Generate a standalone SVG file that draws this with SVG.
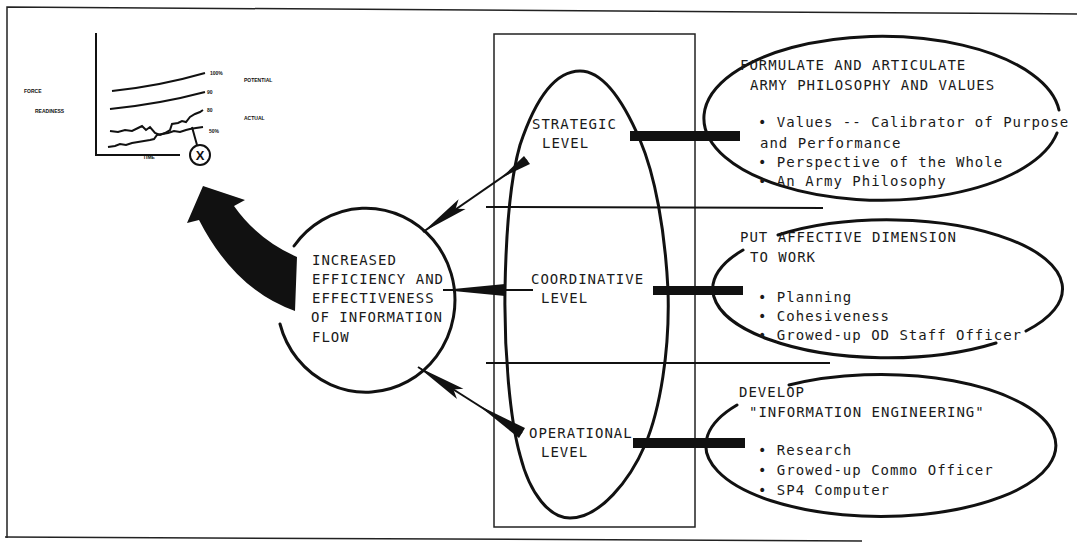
<svg xmlns="http://www.w3.org/2000/svg" width="1077" height="548" viewBox="0 0 1077 548">
<style>
.t{font-family:"DejaVu Sans Mono","Liberation Mono",monospace;font-size:14px;letter-spacing:1px;fill:#1a1a1a}
.s{font-family:"Liberation Sans",Arial,sans-serif;font-size:5px;font-weight:bold;fill:#111}
.k{fill:none;stroke:#111;stroke-width:3;stroke-linecap:round}
.thin{fill:none;stroke:#222;stroke-width:1.5}
.hl{fill:none;stroke:#111;stroke-width:2}
.blk{fill:#111}
</style>
<rect width="1077" height="548" fill="#fff"/>
<g id="frame">
<path class="thin" d="M7 538 L7 7 L1077 14"/>
<path class="thin" d="M5 537 L862 541"/>
</g>
<g id="chart">
<path class="hl" stroke-width="1.5" d="M96 33 L96 155 L180 155"/>
<path class="hl" d="M112 91 Q160 86 205 73"/>
<path class="hl" d="M110 109 Q160 104 205 92"/>
<polyline class="hl" stroke-width="2.2" points="110,131 118,132 125,130 132,131 138,128 142,126 146,130 150,127 155,133 160,135 165,133 170,130 172,124 178,123 182,121 186,122 190,117 195,114 200,112 203,110"/>
<polyline class="hl" stroke-width="2.2" points="108,147 115,146 120,144 126,145 132,143 138,142 144,141 150,140 154,139 157,135 162,134 168,133 174,131 180,132 186,130 190,129 196,128 203,127"/>
<path class="hl" stroke-width="2.5" d="M192 127 L197 145"/>
<circle cx="200" cy="155" r="10" fill="none" stroke="#111" stroke-width="2"/>
<text x="200" y="160" text-anchor="middle" font-family="Liberation Sans,Arial,sans-serif" font-size="13" font-weight="bold" fill="#111">X</text>
<text class="s" x="24" y="93">FORCE</text>
<text class="s" x="35" y="113">READINESS</text>
<text class="s" x="210" y="75">100%</text>
<text class="s" x="207" y="94">90</text>
<text class="s" x="207" y="112">80</text>
<text class="s" x="209" y="133">50%</text>
<text class="s" x="244" y="82">POTENTIAL</text>
<text class="s" x="244" y="120">ACTUAL</text>
<text class="s" x="143" y="159">TIME</text>
</g>
<g id="info-flow">
<path class="k" d="M294 246 A89 92 0 1 1 280 324"/>
<text class="t" x="312" y="265">INCREASED</text>
<text class="t" x="312" y="284">EFFICIENCY AND</text>
<text class="t" x="312" y="303">EFFECTIVENESS</text>
<text class="t" x="311" y="322">OF INFORMATION</text>
<text class="t" x="312" y="342">FLOW</text>
</g>
<g id="levels">
<rect x="494" y="34" width="201" height="493" class="thin"/>
<path class="k" d="M580 71 C605 71 625 105 640 140 C655 175 665 230 668 290 C670 350 660 410 645 445 C630 480 600 518 570 518 C550 518 530 495 520 455 C510 420 504 350 505 290 C506 230 510 180 520 145 C535 100 555 71 580 71 Z"/>
<text class="t" x="532" y="129">STRATEGIC</text>
<text class="t" x="542" y="148">LEVEL</text>
<text class="t" x="531" y="284">COORDINATIVE</text>
<text class="t" x="541" y="303">LEVEL</text>
<text class="t" x="529" y="438">OPERATIONAL</text>
<text class="t" x="541" y="457">LEVEL</text>
</g>
<g id="box-strategic">
<path class="k" d="M1057 133 A178 82 0 1 1 1059 110"/>
<text class="t" x="740" y="70">FORMULATE AND ARTICULATE</text>
<text class="t" x="750" y="90">ARMY PHILOSOPHY AND VALUES</text>
<text class="t" x="758" y="127">• Values -- Calibrator of Purpose</text>
<text class="t" x="760" y="148">and Performance</text>
<text class="t" x="758" y="167">• Perspective of the Whole</text>
<text class="t" x="758" y="186">• An Army Philosophy</text>
</g>
<g id="box-coordinative">
<path class="k" d="M778 235 A175 69 0 0 1 1026 331"/>
<path class="k" d="M996 343 A175 69 0 0 1 743 250"/>
<text class="t" x="740" y="242">PUT AFFECTIVE DIMENSION</text>
<text class="t" x="750" y="262">TO WORK</text>
<text class="t" x="758" y="302">• Planning</text>
<text class="t" x="758" y="321">• Cohesiveness</text>
<text class="t" x="758" y="340">• Growed-up OD Staff Officer</text>
</g>
<g id="box-operational">
<path class="k" d="M789 385 A175 71 0 1 1 737 405"/>
<text class="t" x="739" y="397">DEVELOP</text>
<text class="t" x="749" y="417">"INFORMATION ENGINEERING"</text>
<text class="t" x="758" y="455">• Research</text>
<text class="t" x="758" y="475">• Growed-up Commo Officer</text>
<text class="t" x="758" y="495">• SP4 Computer</text>
</g>
<g id="connectors">
<path class="hl" d="M486 207 L823 208"/>
<path class="hl" d="M486 363 L830 363"/>
<rect class="blk" x="630" y="131" width="110" height="10"/>
<rect class="blk" x="653" y="286" width="90" height="9"/>
<rect class="blk" x="633" y="438" width="112" height="10"/>
<path class="hl" d="M423 232 L527 160"/>
<polygon class="blk" points="423,232 465.6,209.1 455.6,208.8 458.6,199.3"/>
<polygon class="blk" points="501,178 530,164 524,156"/>
<path class="hl" d="M443 290 L533 290"/>
<polygon class="blk" points="443,290 505,284 505,296"/>
<path class="hl" d="M418 367 L522 433"/>
<polygon class="blk" points="418,367 457,398.9 453.4,389.5 463.4,388.7"/>
<polygon class="blk" points="478,405 519,438 525,428"/>
<path class="blk" d="M297 257 L295 311 Q235 290 199 220 L187 223 L203 186 L245 200 L234 206 Q258 240 297 257 Z"/>
</g>
</svg>
